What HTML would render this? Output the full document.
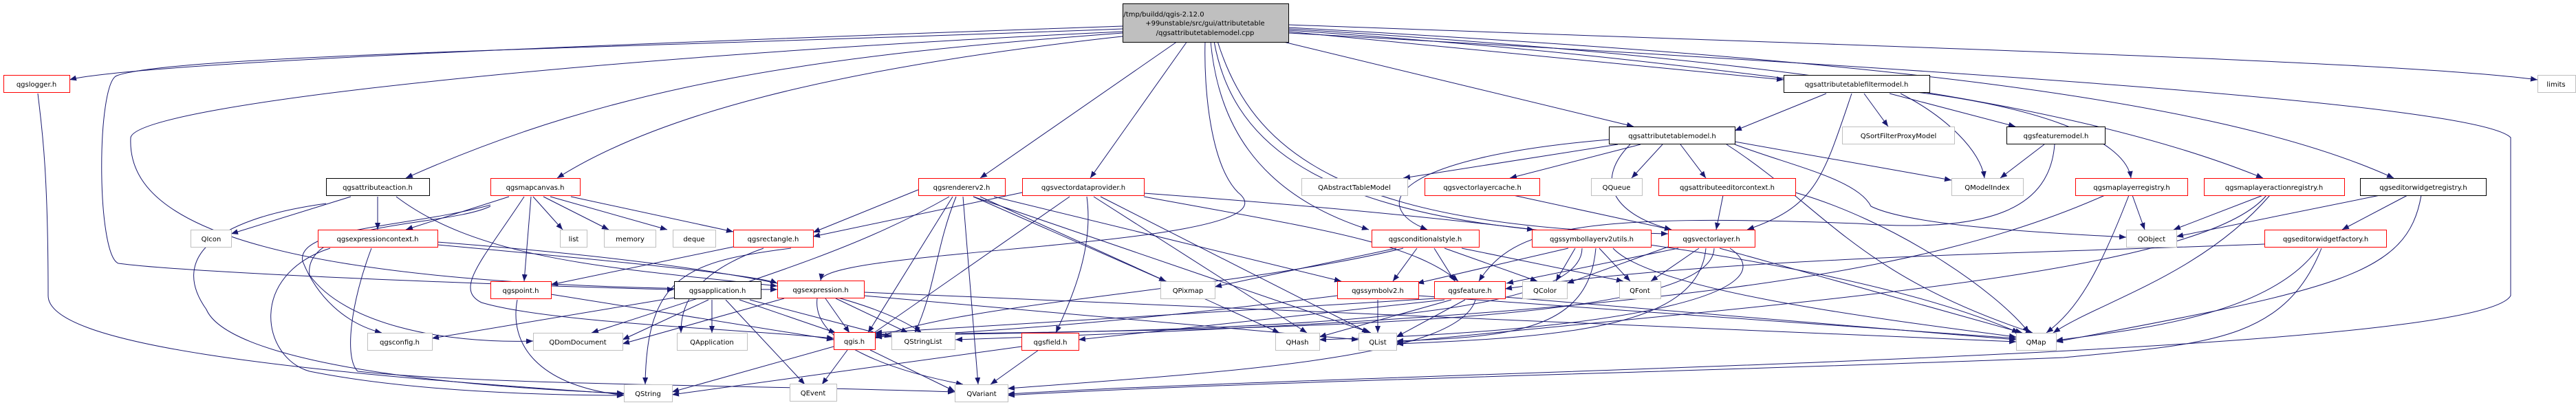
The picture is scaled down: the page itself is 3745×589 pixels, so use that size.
<!DOCTYPE html>
<html><head><meta charset="utf-8"><style>
html,body{margin:0;padding:0;background:#fff;}
svg{display:block;}
text{font-family:"DejaVu Sans","Liberation Sans",sans-serif;font-size:10px;fill:#000;text-anchor:middle;}
.e{stroke:#191970;stroke-width:1;fill:none;marker-end:url(#a);}
.k{fill:#fff;stroke:#000;stroke-width:1;}
.r{fill:#fff;stroke:#ff0000;stroke-width:1;}
.g{fill:#fff;stroke:#bfbfbf;stroke-width:1;}
</style></head><body>
<svg width="3745" height="589" viewBox="0 0 3745 589" xmlns="http://www.w3.org/2000/svg">
<defs><marker id="a" markerWidth="10" markerHeight="8" refX="10" refY="4" orient="auto" markerUnits="userSpaceOnUse"><path d="M0,0 L10,4 L0,8 z" fill="#191970"/></marker></defs>
<g>
<!-- main edges -->
<path class="e" d="M1632,38 C1000,60 200,90 101,116"/>
<path class="e" d="M1632,42 C900,70 250,80 170,110 C140,120 140,370 172,383 C300,400 900,420 980,421"/>
<path class="e" d="M1632,46 C900,80 200,150 190,200 C185,300 300,420 1130,421"/>
<path class="e" d="M1632,48 C1200,80 900,120 590,259"/>
<path class="e" d="M1640,52 C1200,100 950,170 810,259"/>
<path class="e" d="M1712,60 L1425,259"/>
<path class="e" d="M1726,60 L1585,259"/>
<path class="e" d="M1752,60 C1750,130 1760,240 1800,280 C1900,360 1200,360 1193,408"/>
<path class="e" d="M1760,60 C1770,170 1820,280 1990,334"/>
<path class="e" d="M1765,60 C1790,200 1900,300 2230,334"/>
<path class="e" d="M1770,60 C1820,220 1950,330 2425,340"/>
<path class="e" d="M1862,60 L2375,184"/>
<path class="e" d="M1873,46 L2593,116"/>
<path class="e" d="M1873,44 C2400,80 2600,120 2750,130 C2950,150 3090,200 3098,259"/>
<path class="e" d="M1873,42 C2500,80 3000,140 3290,259"/>
<path class="e" d="M1873,40 C2600,80 3200,130 3480,259"/>
<path class="e" d="M1873,36 C2800,70 3500,90 3689,116"/>
<path class="e" d="M1873,48 C2800,100 3600,150 3650,200 L3650,430 C3600,520 2000,540 1465,573"/>
<!-- qgslogger -->
<path class="e" d="M55,136 C60,180 70,240 70,430 C70,500 400,540 907,573"/>
<!-- filtermodel -->
<path class="e" d="M2655,136 L2522,190"/>
<path class="e" d="M2710,136 L2745,184"/>
<path class="e" d="M2747,136 L2930,184"/>
<path class="e" d="M2763,136 C2830,170 2880,220 2885,259"/>
<path class="e" d="M2692,136 C2650,260 2640,300 2540,334"/>
<!-- atm -->
<path class="e" d="M2352,210 L2040,259"/>
<path class="e" d="M2385,210 L2195,259"/>
<path class="e" d="M2417,210 L2372,259"/>
<path class="e" d="M2443,210 L2480,259"/>
<path class="e" d="M2522,206 L2837,262"/>
<path class="e" d="M2522,210 C2600,240 2700,260 2720,300 C2780,330 3000,340 3091,345"/>
<path class="e" d="M2510,210 C2650,300 2700,400 2955,484"/>
<path class="e" d="M2339,203 C2020,230 1990,300 2075,334"/>
<path class="e" d="M2370,210 C2320,260 2340,310 2430,334"/>
<!-- featuremodel -->
<path class="e" d="M2972,210 L2908,259"/>
<path class="e" d="M2987,210 C2980,300 2900,340 2700,325 C2300,310 2200,330 2150,409"/>
<!-- attributeaction -->
<path class="e" d="M510,286 L336,340"/>
<path class="e" d="M549,286 L549,334"/>
<path class="e" d="M474,296 C300,320 250,380 300,450 C330,520 600,560 907,572"/>
<path class="e" d="M576,286 C700,380 900,390 1130,416"/>
<!-- mapcanvas -->
<path class="e" d="M740,286 L590,334"/>
<path class="e" d="M775,286 L818,334"/>
<path class="e" d="M790,286 L885,334"/>
<path class="e" d="M800,286 L970,334"/>
<path class="e" d="M830,286 L1066,337"/>
<path class="e" d="M772,286 L762,409"/>
<path class="e" d="M713,298 C600,330 430,330 440,380 C460,430 500,470 555,484"/>
<path class="e" d="M713,300 C650,330 440,320 450,400 C500,470 640,500 775,496"/>
<path class="e" d="M762,286 C700,380 660,420 700,440 C800,470 1100,480 1212,492"/>
<!-- exprctx -->
<path class="e" d="M480,361 C360,400 380,520 450,540 C600,570 800,575 907,575"/>
<path class="e" d="M540,361 C510,440 500,520 520,540 C700,560 1100,560 1388,570"/>
<path class="e" d="M636,356 C900,380 1100,400 1130,412"/>
<path class="e" d="M636,352 C1000,380 1250,420 1340,484"/>
<!-- rectangle -->
<path class="e" d="M1066,359 L801,414"/>
<path class="e" d="M1110,361 C1000,400 990,450 990,484"/>
<path class="e" d="M1150,361 C1000,380 940,400 938,559"/>
<!-- rendererv2 -->
<path class="e" d="M1335,276 L1182,338"/>
<path class="e" d="M1415,286 L1695,409"/>
<path class="e" d="M1445,286 L1950,409"/>
<path class="e" d="M1425,286 L1860,484"/>
<path class="e" d="M1415,286 L1993,484"/>
<path class="e" d="M1385,286 L1262,484"/>
<path class="e" d="M1400,286 L1422,559"/>
<path class="e" d="M1380,286 C1250,360 1120,400 860,484"/>
<path class="e" d="M1390,286 C1360,360 1360,420 1330,484"/>
<!-- vdp -->
<path class="e" d="M1486,280 L1182,344"/>
<path class="e" d="M1663,286 C1900,330 2050,350 2120,409"/>
<path class="e" d="M1580,286 C1590,360 1560,430 1535,484"/>
<path class="e" d="M1590,286 L1900,484"/>
<path class="e" d="M1600,286 L1990,484"/>
<path class="e" d="M1663,281 C2200,320 2700,380 2935,484"/>
<path class="e" d="M1555,286 L1262,490"/>
<!-- qgspoint -->
<path class="e" d="M801,428 L1212,494"/>
<path class="e" d="M752,436 C740,500 780,560 907,575"/>
<!-- application -->
<path class="e" d="M1035,436 L1035,484"/>
<path class="e" d="M980,433 L628,492"/>
<path class="e" d="M1055,436 L1170,559"/>
<path class="e" d="M1075,436 L1215,484"/>
<path class="e" d="M1090,436 L1296,490"/>
<path class="e" d="M1030,436 L905,494"/>
<!-- expression -->
<path class="e" d="M1200,434 L1235,484"/>
<path class="e" d="M1215,434 L1320,484"/>
<path class="e" d="M1188,434 C1180,500 1300,540 1400,559"/>
<path class="e" d="M1140,434 L905,500"/>
<path class="e" d="M1256,425 L2931,497"/>
<path class="e" d="M1256,430 L1975,494"/>
<!-- condstyle -->
<path class="e" d="M2030,361 L1766,417"/>
<path class="e" d="M2060,361 L2025,409"/>
<path class="e" d="M2085,361 L2115,409"/>
<path class="e" d="M2100,361 L2235,409"/>
<path class="e" d="M2125,361 L2360,409"/>
<path class="e" d="M2040,361 C1800,420 1400,440 1272,492"/>
<!-- slv2utils -->
<path class="e" d="M2280,361 L2060,412"/>
<path class="e" d="M2290,361 L2262,409"/>
<path class="e" d="M2325,361 L2370,409"/>
<path class="e" d="M2345,361 C2400,420 2700,460 2931,490"/>
<path class="e" d="M2320,361 C2310,480 2200,490 2030,496"/>
<path class="e" d="M2300,361 C2300,470 1800,480 1272,488"/>
<!-- vectorlayer -->
<path class="e" d="M2440,361 L2190,412"/>
<path class="e" d="M2470,361 L2400,409"/>
<path class="e" d="M2500,361 L2940,484"/>
<path class="e" d="M2480,361 C2470,470 2300,490 2030,500"/>
<path class="e" d="M2492,361 C2490,460 2000,480 1272,486"/>
<path class="e" d="M2425,359 L2278,412"/>
<path class="e" d="M2515,361 C2600,420 2400,480 1918,494"/>
<!-- aecontext / vlcache -->
<path class="e" d="M2505,284 L2495,334"/>
<path class="e" d="M2610,280 C2750,320 2900,420 2950,484"/>
<path class="e" d="M2200,284 L2430,334"/>
<!-- symbolv2 -->
<path class="e" d="M2003,436 L2003,484"/>
<path class="e" d="M1944,430 C1700,460 1500,480 1272,490"/>
<path class="e" d="M2062,430 L2931,492"/>
<!-- feature -->
<path class="e" d="M2110,436 L1918,490"/>
<path class="e" d="M2130,436 L2030,490"/>
<path class="e" d="M2145,436 C2120,520 1800,540 1465,565"/>
<path class="e" d="M2100,436 L1568,494"/>
<path class="e" d="M2088,434 L1272,484"/>
<path class="e" d="M2188,432 L2931,494"/>
<!-- qgis / qgsfield -->
<path class="e" d="M1212,504 L977,570"/>
<path class="e" d="M1232,509 L1195,559"/>
<path class="e" d="M1265,509 L1388,569"/>
<path class="e" d="M1485,504 L977,574"/>
<path class="e" d="M1510,509 L1440,559"/>
<!-- mlreg / mlareg / ewreg / ewfactory -->
<path class="e" d="M3100,284 L3118,334"/>
<path class="e" d="M3060,284 C2800,400 2400,460 1389,494"/>
<path class="e" d="M3095,284 C3050,400 3020,450 2975,484"/>
<path class="e" d="M3290,284 L3160,334"/>
<path class="e" d="M3295,284 C3200,400 2600,440 2030,498"/>
<path class="e" d="M3300,284 C3200,400 3050,440 2985,484"/>
<path class="e" d="M3460,284 L3164,344"/>
<path class="e" d="M3500,284 L3405,334"/>
<path class="e" d="M3520,284 C3500,400 3400,420 2989,497"/>
<path class="e" d="M3292,355 C2900,370 2500,375 2188,420"/>
<path class="e" d="M3370,361 C3300,460 3100,480 2989,495"/>
<path class="e" d="M3375,361 C3320,500 3200,500 3000,520 C2500,540 1800,555 1465,575"/>
</g>
<g>
<rect x="1632.5" y="5.5" width="241" height="56" fill="#bfbfbf" stroke="#000"/>
<text x="1692" y="24">/tmp/buildd/qgis-2.12.0</text>
<text x="1752" y="37">+99unstable/src/gui/attributetable</text>
<text x="1752" y="51">/qgsattributetablemodel.cpp</text>

<rect class="r" x="5.5" y="109.5" width="96" height="25"/><text x="53" y="126">qgslogger.h</text>
<rect class="k" x="2593.5" y="109.5" width="212" height="25"/><text x="2699" y="126">qgsattributetablefiltermodel.h</text>
<rect class="g" x="3689.5" y="109.5" width="55" height="25"/><text x="3716" y="126">limits</text>

<rect class="k" x="2339.5" y="184.5" width="183" height="25"/><text x="2431" y="201">qgsattributetablemodel.h</text>
<rect class="g" x="2678.5" y="184.5" width="163" height="25"/><text x="2760" y="201">QSortFilterProxyModel</text>
<rect class="k" x="2917.5" y="184.5" width="143" height="25"/><text x="2989" y="201">qgsfeaturemodel.h</text>

<rect class="k" x="474.5" y="259.5" width="150" height="25"/><text x="549" y="276">qgsattributeaction.h</text>
<rect class="r" x="713.5" y="259.5" width="130" height="25"/><text x="778" y="276">qgsmapcanvas.h</text>
<rect class="r" x="1335.5" y="259.5" width="126" height="25"/><text x="1398" y="276">qgsrendererv2.h</text>
<rect class="r" x="1486.5" y="259.5" width="177" height="25"/><text x="1575" y="276">qgsvectordataprovider.h</text>
<rect class="g" x="1892.5" y="259.5" width="154" height="25"/><text x="1969" y="276">QAbstractTableModel</text>
<rect class="r" x="2071.5" y="259.5" width="167" height="25"/><text x="2155" y="276">qgsvectorlayercache.h</text>
<rect class="g" x="2313.5" y="259.5" width="74" height="25"/><text x="2350" y="276">QQueue</text>
<rect class="r" x="2411.5" y="259.5" width="199" height="25"/><text x="2511" y="276">qgsattributeeditorcontext.h</text>
<rect class="g" x="2837.5" y="259.5" width="104" height="25"/><text x="2889" y="276">QModelIndex</text>
<rect class="r" x="3017.5" y="259.5" width="163" height="25"/><text x="3099" y="276">qgsmaplayerregistry.h</text>
<rect class="r" x="3204.5" y="259.5" width="204" height="25"/><text x="3306" y="276">qgsmaplayeractionregistry.h</text>
<rect class="k" x="3431.5" y="259.5" width="183" height="25"/><text x="3523" y="276">qgseditorwidgetregistry.h</text>

<rect class="g" x="277.5" y="334.5" width="59" height="25"/><text x="307" y="351">QIcon</text>
<rect class="r" x="462.5" y="334.5" width="174" height="25"/><text x="549" y="351">qgsexpressioncontext.h</text>
<rect class="g" x="814.5" y="334.5" width="39" height="25"/><text x="834" y="351">list</text>
<rect class="g" x="878.5" y="334.5" width="75" height="25"/><text x="916" y="351">memory</text>
<rect class="g" x="978.5" y="334.5" width="62" height="25"/><text x="1009" y="351">deque</text>
<rect class="r" x="1066.5" y="334.5" width="116" height="25"/><text x="1124" y="351">qgsrectangle.h</text>
<rect class="r" x="1994.5" y="334.5" width="156" height="25"/><text x="2072" y="351">qgsconditionalstyle.h</text>
<rect class="r" x="2227.5" y="334.5" width="173" height="25"/><text x="2314" y="351">qgssymbollayerv2utils.h</text>
<rect class="r" x="2425.5" y="334.5" width="126" height="25"/><text x="2488" y="351">qgsvectorlayer.h</text>
<rect class="g" x="3091.5" y="334.5" width="73" height="25"/><text x="3128" y="351">QObject</text>
<rect class="r" x="3292.5" y="334.5" width="177" height="25"/><text x="3381" y="351">qgseditorwidgetfactory.h</text>

<rect class="r" x="713.5" y="409.5" width="88" height="25"/><text x="757" y="426">qgspoint.h</text>
<rect class="k" x="980.5" y="409.5" width="126" height="25"/><text x="1043" y="426">qgsapplication.h</text>
<rect class="r" x="1130.5" y="408.5" width="126" height="25"/><text x="1193" y="425">qgsexpression.h</text>
<rect class="g" x="1687.5" y="409.5" width="79" height="25"/><text x="1727" y="426">QPixmap</text>
<rect class="r" x="1944.5" y="409.5" width="118" height="25"/><text x="2003" y="426">qgssymbolv2.h</text>
<rect class="r" x="2085.5" y="409.5" width="103" height="25"/><text x="2137" y="426">qgsfeature.h</text>
<rect class="g" x="2213.5" y="409.5" width="65" height="25"/><text x="2246" y="426">QColor</text>
<rect class="g" x="2354.5" y="409.5" width="60" height="25"/><text x="2384" y="426">QFont</text>

<rect class="g" x="534.5" y="484.5" width="94" height="25"/><text x="581" y="501">qgsconfig.h</text>
<rect class="g" x="775.5" y="484.5" width="130" height="25"/><text x="840" y="501">QDomDocument</text>
<rect class="g" x="984.5" y="484.5" width="102" height="25"/><text x="1035" y="501">QApplication</text>
<rect class="r" x="1212.5" y="483.5" width="60" height="25"/><text x="1242" y="500">qgis.h</text>
<rect class="g" x="1296.5" y="483.5" width="92" height="25"/><text x="1342" y="500">QStringList</text>
<rect class="r" x="1485.5" y="484.5" width="83" height="25"/><text x="1527" y="501">qgsfield.h</text>
<rect class="g" x="1854.5" y="484.5" width="64" height="25"/><text x="1886" y="501">QHash</text>
<rect class="g" x="1975.5" y="484.5" width="55" height="25"/><text x="2003" y="501">QList</text>
<rect class="g" x="2931.5" y="484.5" width="58" height="25"/><text x="2960" y="501">QMap</text>

<rect class="g" x="907.5" y="559.5" width="70" height="25"/><text x="942" y="576">QString</text>
<rect class="g" x="1148.5" y="558.5" width="68" height="25"/><text x="1182" y="575">QEvent</text>
<rect class="g" x="1388.5" y="559.5" width="77" height="25"/><text x="1427" y="576">QVariant</text>
</g>
</svg>
</body></html>
